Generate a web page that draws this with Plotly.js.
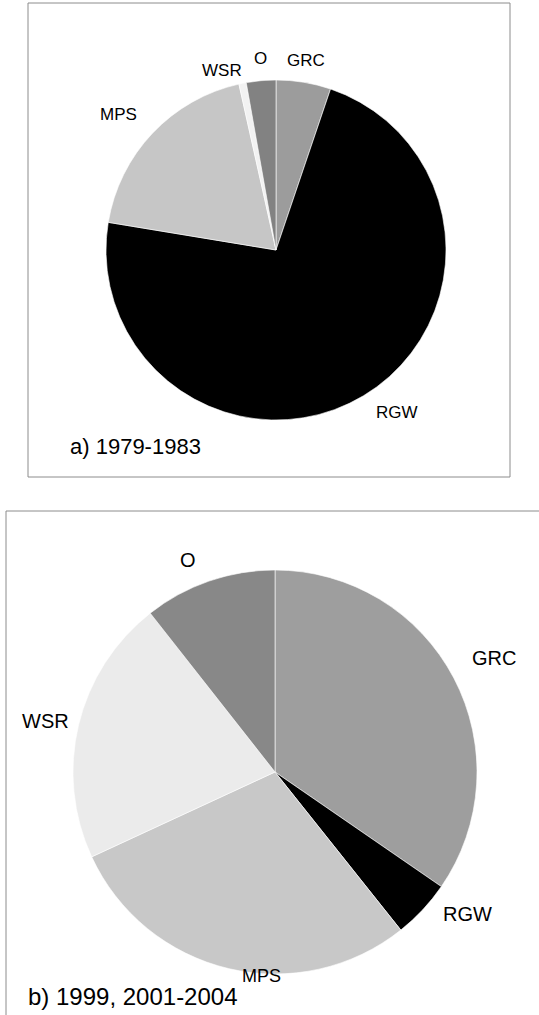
<!DOCTYPE html>
<html>
<head>
<meta charset="utf-8">
<script src="https://cdn.plot.ly/plotly-3.0.1.min.js"></script>
<style>html,body{margin:0;padding:0;background:#fff;}#chart{width:539px;height:1015px;}</style>
</head>
<body>
<div id="chart"></div>
<script>
// Categories (clockwise from 12 o'clock)
const categories = ["GRC", "RGW", "MPS", "WSR", "O"];
// a) 1979-1983, share of total (%)
const valuesA = [5.2, 72.4, 18.9, 0.7, 2.8];
// b) 1999, 2001-2004, share of total (%)
const valuesB = [34.6, 4.7, 28.8, 21.3, 10.6];
const panelTitles = ["a) 1979-1983", "b) 1999, 2001-2004"];

const colorsA = ["#9c9c9c", "#000000", "#c6c6c6", "#f2f2f2", "#828282"];
const colorsB = ["#9e9e9e", "#000000", "#c8c8c8", "#ebebeb", "#888888"];

const W = 539, H = 1015;
const px = x => x / W;
const py = y => 1 - y / H;

function dom(cx, cy, r) {
  return { x: [px(cx - r), px(cx + r)], y: [py(cy + r), py(cy - r)] };
}

const pieA = {
  type: "pie", labels: categories, values: valuesA, sort: false,
  direction: "clockwise", rotation: 0, textinfo: "none", hoverinfo: "label+percent",
  marker: { colors: colorsA, line: { color: "#ffffff", width: 0.6 } },
  domain: dom(276, 250, 170), showlegend: false
};
const pieB = {
  type: "pie", labels: categories, values: valuesB, sort: false,
  direction: "clockwise", rotation: 0, textinfo: "none", hoverinfo: "label+percent",
  marker: { colors: colorsB, line: { color: "#ffffff", width: 0.6 } },
  domain: dom(275, 772, 202), showlegend: false
};

const font = { family: "Liberation Sans, Arial, sans-serif", size: 17, color: "#000" };
function lab(text, x, y, size) {
  return { text: text, x: px(x), y: py(y), xref: "paper", yref: "paper",
    showarrow: false, xanchor: "center", yanchor: "middle",
    font: Object.assign({}, font, { size: size }) };
}
// label positions for A and B (order matches categories)
const labPosA = [[306, 61], [397, 413], [118, 115], [222, 71], [260, 59]];
const labPosB = [[494, 658], [467, 914], [261, 976], [45, 721], [188, 560]];
const labSizeB = [20, 20, 18, 20, 20];

const annotations = [];
categories.forEach((c, i) => annotations.push(lab(c, labPosA[i][0], labPosA[i][1], 17)));
categories.forEach((c, i) => annotations.push(lab(c, labPosB[i][0], labPosB[i][1], labSizeB[i])));
annotations.push({ text: panelTitles[0], x: px(68), y: py(446), xref: "paper", yref: "paper",
  showarrow: false, xanchor: "left", yanchor: "middle", font: Object.assign({}, font, { size: 22 }) });
annotations.push({ text: panelTitles[1], x: px(26), y: py(996), xref: "paper", yref: "paper",
  showarrow: false, xanchor: "left", yanchor: "middle", font: Object.assign({}, font, { size: 24 }) });

const shapes = [
  { type: "rect", xref: "paper", yref: "paper", x0: px(28), x1: px(510), y0: py(477), y1: py(3),
    line: { color: "#8c8c8c", width: 1 }, fillcolor: "rgba(0,0,0,0)" },
  { type: "rect", xref: "paper", yref: "paper", x0: px(6), x1: px(560), y0: py(1030), y1: py(511),
    line: { color: "#8c8c8c", width: 1 }, fillcolor: "rgba(0,0,0,0)" }
];

Plotly.newPlot("chart", [pieA, pieB], {
  width: W, height: H, margin: { l: 0, r: 0, t: 0, b: 0 },
  paper_bgcolor: "#ffffff", plot_bgcolor: "#ffffff",
  annotations: annotations, shapes: shapes, font: font
}, { staticPlot: true });
</script>
</body>
</html>
